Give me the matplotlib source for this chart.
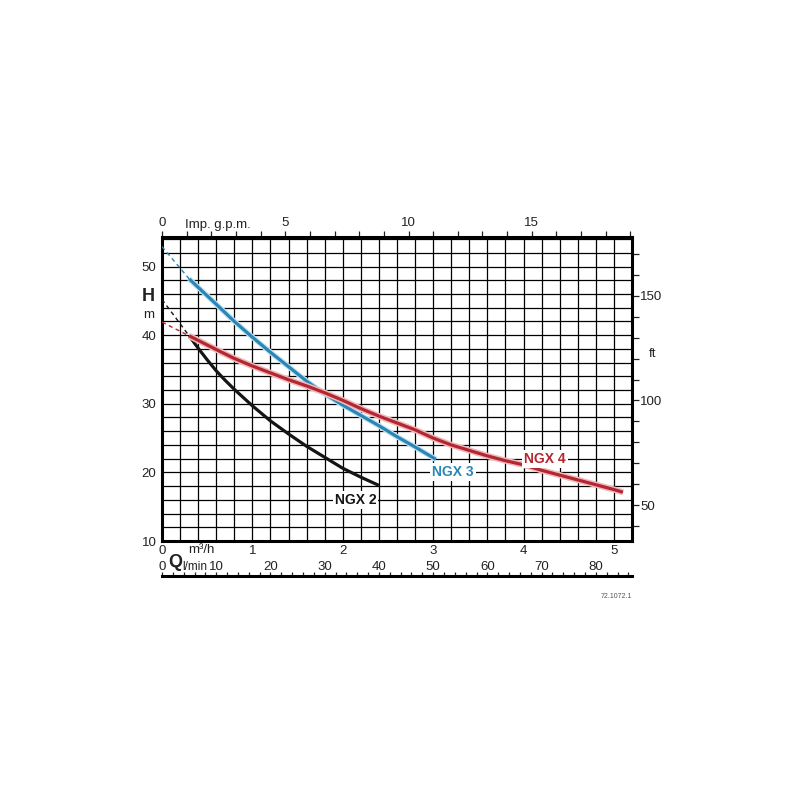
import numpy as np
import matplotlib
matplotlib.use("Agg")
import matplotlib.pyplot as plt
import matplotlib.patheffects as pe
from matplotlib.ticker import FixedLocator, FuncFormatter

plt.rcParams['font.family'] = ['Liberation Sans', 'DejaVu Sans']

# ---- data (Q in m3/h, H in m) ----
ngx2_q = [0.30, 0.40, 0.50, 0.60, 0.70, 0.80, 1.00, 1.20, 1.40, 1.60, 1.80, 2.00, 2.20, 2.40]
ngx2_h = [39.9, 38.1, 36.4, 34.8, 33.4, 32.1, 29.7, 27.5, 25.6, 23.8, 22.2, 20.6, 19.3, 18.1]
ngx3_q = [0.30, 0.60, 0.80, 1.00, 1.20, 1.40, 1.60, 1.78, 2.00, 2.20, 2.40, 2.60, 2.80, 3.03]
ngx3_h = [48.2, 44.5, 42.0, 39.7, 37.5, 35.4, 33.3, 31.6, 29.8, 28.3, 26.8, 25.2, 23.7, 21.9]
ngx4_q = [0.30, 0.60, 0.80, 1.00, 1.20, 1.40, 1.60, 1.80, 2.00, 2.20, 2.40, 2.60, 2.80,
          3.00, 3.20, 3.40, 3.60, 3.80, 4.00, 4.20, 4.40, 4.60, 4.80, 5.00, 5.10]
ngx4_h = [39.9, 37.9, 36.6, 35.5, 34.5, 33.5, 32.6, 31.6, 30.5, 29.3, 28.2, 27.2, 26.2,
          25.0, 24.0, 23.2, 22.4, 21.7, 21.1, 20.3, 19.6, 18.9, 18.2, 17.5, 17.1]
# dashed extrapolation to Q = 0
shut_q = [0.0, 0.30]
ngx2_shut = [45.2, 39.9]
ngx3_shut = [52.9, 48.2]
ngx4_shut = [41.9, 39.9]

labels = ["NGX 2", "NGX 3", "NGX 4"]
label_q = [2.14, 3.22, 4.24]
label_h = [16, 20, 22]

m3h_ticks = [0, 1, 2, 3, 4, 5]
h_ticks = [10, 20, 30, 40, 50]
lmin_labels = [0, 10, 20, 30, 40, 50, 60, 70, 80]
gpm_labels = [0, 5, 10, 15]
ft_labels = [50, 100, 150]

BLACK = "#151515"
BLUE = "#2a86b4"
RED = "#b22830"
TXT = "#222222"

fig = plt.figure(figsize=(8, 8), dpi=100)
L, B, W, Hh = 0.2025, 0.32375, 0.5875, 0.38
ax = fig.add_axes([L, B, W, Hh])
XMAX, YMIN, YMAX = 5.2, 10, 54.3
ax.set_xlim(0, XMAX)
ax.set_ylim(YMIN, YMAX)

# grid
ax.xaxis.set_major_locator(FixedLocator(np.arange(0, XMAX + 0.01, 0.2)))
ax.yaxis.set_major_locator(FixedLocator(np.arange(10, 54.1, 2)))
ax.grid(True, color="black", linewidth=0.9)
ax.set_axisbelow(True)
ax.tick_params(length=0, labelsize=9.5, colors=TXT)
ax.tick_params(axis="x", pad=3)
ax.tick_params(axis="y", pad=4)
ax.xaxis.set_major_formatter(FuncFormatter(
    lambda v, p: f"{int(round(v))}" if abs(v - round(v)) < 1e-6 and int(round(v)) in m3h_ticks else ""))
ax.yaxis.set_major_formatter(FuncFormatter(
    lambda v, p: f"{int(round(v))}" if int(round(v)) in h_ticks else ""))
for s in ax.spines.values():
    s.set_linewidth(2.2)
    s.set_color("black")

# curves
halo_r = [pe.Stroke(linewidth=4.5, foreground="#f2b8bc"), pe.Normal()]
halo_b = [pe.Stroke(linewidth=4.0, foreground="#c6e3f0"), pe.Normal()]
ax.plot(shut_q, ngx3_shut, color=BLUE, lw=1.0, ls=(0, (3, 2.5)), zorder=3)
ax.plot(shut_q, ngx2_shut, color=BLACK, lw=1.0, ls=(0, (3, 2.5)), zorder=3)
ax.plot(shut_q, ngx4_shut, color=RED, lw=1.0, ls=(0, (3, 2.5)), zorder=3)
kw = dict(lw=2.3, solid_capstyle="butt", solid_joinstyle="round")
ax.plot(ngx2_q, ngx2_h, color=BLACK, zorder=4, **kw)
ax.plot(ngx3_q, ngx3_h, color=BLUE, zorder=4, path_effects=halo_b, **kw)
ax.plot(ngx4_q, ngx4_h, color=RED, zorder=5, path_effects=halo_r, **kw)

for t, q, h, c in zip(labels, label_q, label_h, [BLACK, BLUE, RED]):
    ax.text(q, h, t, color=c, fontsize=10, fontweight="bold", ha="center", va="center",
            zorder=6, bbox=dict(facecolor="white", edgecolor="none", pad=1.5))

# axis titles
ax.text(-0.015, 0.805, "H", transform=ax.transAxes, fontsize=13, fontweight="bold",
        ha="right", va="center", color=TXT)
ax.text(-0.017, 0.745, "m", transform=ax.transAxes, fontsize=9.5,
        ha="right", va="center", color=TXT)
ax.annotate("m³/h", xy=(0.43, 0), xycoords=ax.get_xaxis_transform(),
            xytext=(0, -2.2), textcoords="offset points",
            fontsize=9.5, ha="center", va="top", color=TXT)

# right ft axis
sec_r = ax.secondary_yaxis("right", functions=(lambda m: m * 3.2808, lambda f: f / 3.2808))
sec_r.yaxis.set_major_locator(FixedLocator(ft_labels))
sec_r.yaxis.set_minor_locator(FixedLocator([f for f in range(40, 180, 10) if f not in ft_labels]))
sec_r.yaxis.set_major_formatter(FuncFormatter(lambda v, p: f"{int(v)}"))
sec_r.tick_params(which="both", length=5, width=0.9, labelsize=9.5, pad=1, colors=TXT)
sec_r.spines["right"].set_visible(False)
ax.text(1.035, 122 / 3.2808, "ft", transform=ax.get_yaxis_transform(),
        fontsize=9.5, ha="left", va="center", color=TXT)

# top Imp. g.p.m. axis
GPM = 1000 / 4.54609 / 60  # gpm per m3/h
sec_t = ax.secondary_xaxis("top", functions=(lambda q: q * GPM, lambda g: g / GPM))
sec_t.xaxis.set_major_locator(FixedLocator(gpm_labels))
sec_t.xaxis.set_minor_locator(FixedLocator([g for g in range(0, 20) if g not in gpm_labels]))
sec_t.xaxis.set_major_formatter(FuncFormatter(lambda v, p: f"{int(v)}"))
sec_t.tick_params(which="both", length=4, width=0.9, labelsize=9.5, pad=2, colors=TXT)
sec_t.spines["top"].set_visible(False)
ax.annotate("Imp. g.p.m.", xy=(1 / GPM, 1.0), xycoords=ax.get_xaxis_transform(),
            xytext=(-1, 4.5), textcoords="offset points",
            fontsize=9.5, ha="left", va="bottom", color=TXT)

# l/min axis
LMIN = 1000 / 60
axl = fig.add_axes([L, 0.28, W, 1e-6])
axl.set_xlim(0, XMAX * LMIN)
axl.set_ylim(0, 1)
axl.set_yticks([])
axl.patch.set_visible(False)
for k, s in axl.spines.items():
    s.set_visible(k == "top")
axl.spines["top"].set_linewidth(2.2)
axl.xaxis.set_ticks_position("top")
axl.xaxis.set_major_locator(FixedLocator(lmin_labels))
axl.xaxis.set_minor_locator(FixedLocator([v for v in range(0, 88, 2) if v not in lmin_labels]))
axl.xaxis.set_major_formatter(FuncFormatter(lambda v, p: f"{int(v)}"))
axl.tick_params(which="both", direction="out", length=3.0, width=0.9,
                labelsize=9.5, pad=-1.0, colors=TXT)
axl.annotate("Q", xy=(0.15 * LMIN, 0), xycoords=axl.get_xaxis_transform(),
             xytext=(0, 3.5), textcoords="offset points",
             fontsize=13, fontweight="bold", ha="center", va="bottom", color=TXT)
axl.annotate("l/min", xy=(0.505 * LMIN, 0), xycoords=axl.get_xaxis_transform(),
             xytext=(0, 2.5), textcoords="offset points",
             fontsize=8.5, ha="right", va="bottom", color=TXT)

fig.text(0.79, 0.255, "72.1072.1", fontsize=5, ha="right", va="center", color="#555555")

fig.savefig("out.png", dpi=100, facecolor="white")
